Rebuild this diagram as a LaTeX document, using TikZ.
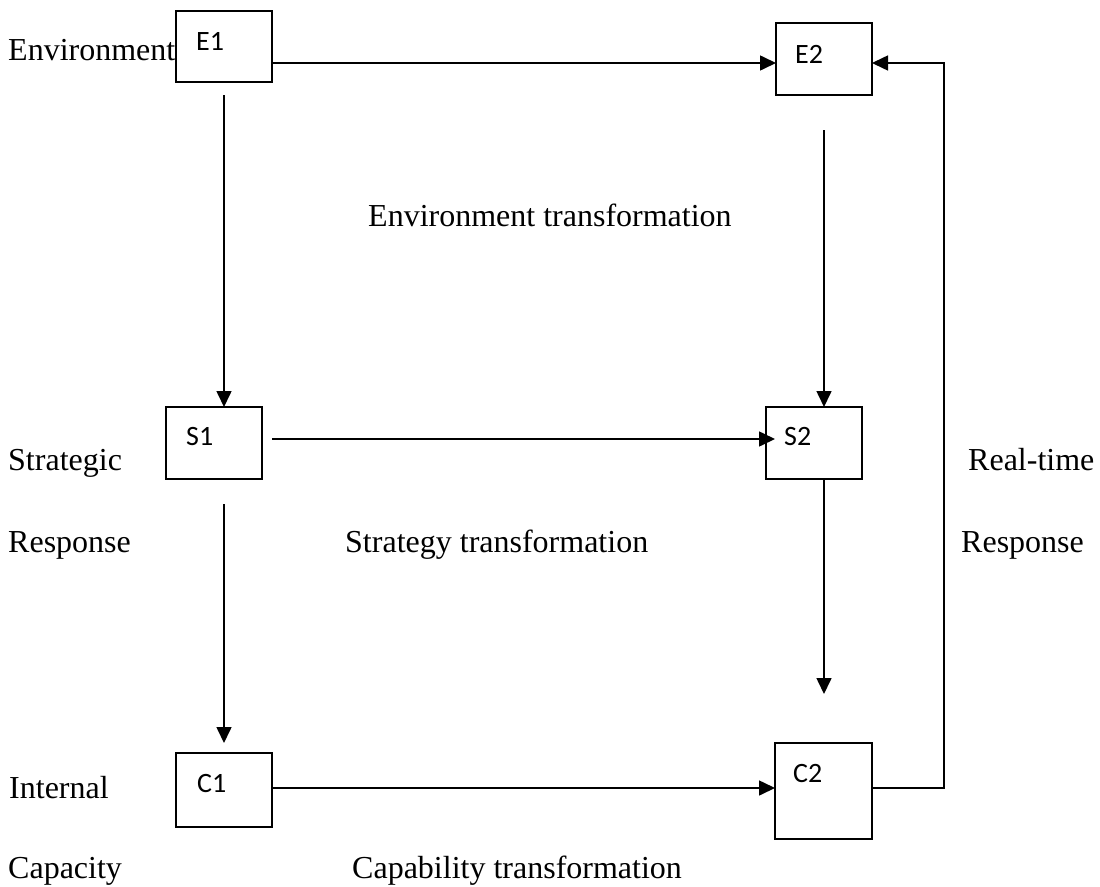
\documentclass[tikz,border=0pt]{standalone}
\usepackage{fontspec}
\setmainfont{Liberation Serif}
\newfontfamily\boxfont{Carlito}
\usetikzlibrary{arrows.meta}
\tikzset{
  blk/.style={draw, line width=2pt, rectangle, inner sep=0pt, outer sep=0pt},
  conn/.style={line width=1.6pt, -{Triangle[length=16pt,width=15pt]}},
  lbl/.style={anchor=base west, inner sep=0pt, font=\fontsize{32}{38}\selectfont},
  blbl/.style={anchor=base west, inner sep=0pt, font=\boxfont\fontsize{28}{34}\selectfont}
}
\begin{document}
\begin{tikzpicture}[x=1pt,y=-1pt]
\useasboundingbox (0,0) rectangle (1100,886);
% boxes
\node[blk, minimum width=96pt, minimum height=71pt] (e1) at (224,46.5) {};
\node[blk, minimum width=96pt, minimum height=72pt] (e2) at (824,59) {};
\node[blk, minimum width=96pt, minimum height=72pt] (s1) at (214,443) {};
\node[blk, minimum width=96pt, minimum height=72pt] (s2) at (814,443) {};
\node[blk, minimum width=96pt, minimum height=74pt] (c1) at (224,790) {};
\node[blk, minimum width=97pt, minimum height=96pt] (c2) at (823.5,791) {};
% box labels
\node[blbl] (e1t) at (196,50) {E1};
\node[blbl] (e2t) at (795,63) {E2};
\node[blbl] (s1t) at (186,445) {S1};
\node[blbl] (s2t) at (784,445) {S2};
\node[blbl] (c1t) at (197,792) {C1};
\node[blbl] (c2t) at (793,782) {C2};
% side texts
\node[lbl] (tenv) at (8,60) {Environment};
\node[lbl] (tenvtr) at (368,226) {Environment transformation};
\node[lbl] (tstrat) at (8,470) {Strategic};
\node[lbl] (tresp) at (8,552) {Response};
\node[lbl] (tstrtr) at (345,552) {Strategy transformation};
\node[lbl] (treal) at (968,470) {Real-time};
\node[lbl] (tresp2) at (961,552) {Response};
\node[lbl] (tint) at (9,798) {Internal};
\node[lbl] (tcap) at (8,878) {Capacity};
\node[lbl] (tcaptr) at (352,878) {Capability transformation};
% helper coordinates
\coordinate (s2tip) at (824,694);
\coordinate (rc) at (944,63);
% connectors
\draw[conn] ([yshift=-16.5pt]e1.east) -- ([yshift=-4pt]e2.west);
\draw[conn] ([yshift=-13pt]e1.south) -- ([xshift=10pt]s1.north);
\draw[conn] ([xshift=10pt,yshift=4pt]s1.east) -- ([xshift=9pt,yshift=4pt]s2.west);
\draw[conn] ([yshift=-35pt]e2.south) -- (s2.north -| s2tip);
\draw[conn] (s2.south -| s2tip) -- (s2tip);
\draw[conn] ([xshift=10pt,yshift=-25pt]s1.south) -- ([yshift=10pt]c1.north);
\draw[conn] ([yshift=2pt]c1.east) -- ([yshift=3pt]c2.west);
\draw[conn] ([yshift=3pt]c2.east) -| (rc) -- ([yshift=-4pt]e2.east);
\end{tikzpicture}
\end{document}
